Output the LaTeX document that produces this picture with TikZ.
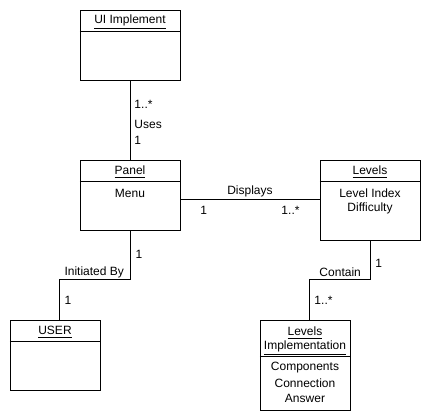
\documentclass[tikz,border=0pt]{standalone}
\usepackage{fontspec}
\setmainfont{Liberation Sans}
\tikzset{every picture/.style={line width=0.75pt}}
\tikzset{
  umlbox/.style={draw, rectangle, anchor=north west, inner sep=0pt},
  lbl/.style={anchor=west, inner sep=0.75pt, font=\fontsize{9}{11}\selectfont},
  ctr/.style={anchor=center, inner sep=0.75pt, align=center, font=\fontsize{9}{11}\selectfont}
}

\begin{document}
\begin{tikzpicture}[x=0.75pt,y=0.75pt,yscale=-1,xscale=1]
\useasboundingbox (0,0) rectangle (430,420);

%Shape: Class boxes
\node [umlbox, minimum width=75pt, minimum height=52.5pt] (ui) at (80,10) {};
\node [umlbox, minimum width=75pt, minimum height=52.5pt] (panel) at (80,160) {};
\node [umlbox, minimum width=75pt, minimum height=60pt] (levels) at (320,160) {};
\node [umlbox, minimum width=67.5pt, minimum height=52.5pt] (user) at (10,320) {};
\node [umlbox, minimum width=67.5pt, minimum height=67.5pt] (limpl) at (260,320) {};

%Straight Lines: separators
\draw (80,32) -- (180,32) ;
\draw (80,182) -- (180,182) ;
\draw (320,182) -- (420,182) ;
\draw (10,342) -- (100,342) ;
\draw (260,357) -- (350,357) ;

% Text Node: class names
\draw (130,22) node [ctr] {\underline{UI Implement}};
\draw (130,172) node [ctr] {\underline{Panel}};
\draw (370,172) node [ctr] {\underline{Levels}};
\draw (55,332) node [ctr] {\underline{USER}};
\draw (305,333) node [ctr] {\underline{Levels}};
\draw (305,348) node [ctr] {\underline{Implementation}};

% Text Node: attributes
\draw (130,193) node [ctr] {Menu};
\draw (370,193) node [ctr] {Level Index};
\draw (370,208) node [ctr] {Difficulty};
\draw (305,368) node [ctr] {Components};
\draw (305,383) node [ctr] {Connection};
\draw (305,398) node [ctr] {Answer};

%Connectors
\coordinate (k1) at (60,280);
\coordinate (k2) at (310,280);
\draw (ui.south) -- (panel.north) ;
\draw (panel.east |- 0,200) -- (levels.west |- 0,200) ;
\draw (panel.south) |- (k1) -- (k1 |- user.north) ;
\draw (levels.south) |- (k2) -- (k2 |- limpl.north) ;

% Text Node: connector labels
\draw (133,104) node [lbl] {1..*};
\draw (133,124) node [lbl] {Uses};
\draw (133,140) node [lbl] {1};
\draw (250,191) node [ctr] {Displays};
\draw (199,210) node [lbl] {1};
\draw (280,210) node [lbl] {1..*};
\draw (134,254) node [lbl] {1};
\draw (63,272) node [lbl] {Initiated By};
\draw (63,300) node [lbl] {1};
\draw (374,263) node [lbl] {1};
\draw (318,272) node [lbl] {Contain};
\draw (313,300) node [lbl] {1..*};
\end{tikzpicture}
\end{document}
